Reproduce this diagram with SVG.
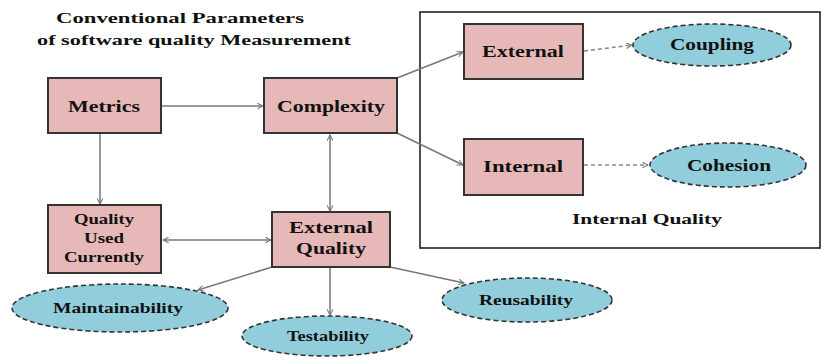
<svg xmlns="http://www.w3.org/2000/svg" width="824" height="362" viewBox="0 0 824 362">
<defs>
<marker id="ah" viewBox="0 0 10 10" refX="9" refY="5" markerWidth="7" markerHeight="7" orient="auto-start-reverse" markerUnits="userSpaceOnUse">
<path d="M1,1 L9,5 L1,9" fill="none" stroke="#777" stroke-width="1.5"/>
</marker>
</defs>
<style>
.box{fill:#e6b8b7;stroke:#333;stroke-width:2}
.ell{fill:#92cddc;stroke:#333;stroke-width:1.6;stroke-dasharray:5 3}
.t{font-family:"Liberation Serif","Times New Roman",serif;font-weight:bold;fill:#111;text-anchor:middle}
.c{fill:none;stroke:#777;stroke-width:1.5}
.d{fill:none;stroke:#888;stroke-width:1.5;stroke-dasharray:4 3}
</style>
<rect width="824" height="362" fill="#fff"/>
<g id="title">
<text class="t" x="180" y="23" font-size="15" textLength="248" lengthAdjust="spacingAndGlyphs">Conventional  Parameters</text>
<text class="t" x="194" y="45" font-size="15" textLength="314" lengthAdjust="spacingAndGlyphs">of software quality Measurement</text>
</g>
<g id="internal-quality-frame">
<rect x="420" y="12" width="400" height="236" fill="none" stroke="#222" stroke-width="1.6"/>
<text class="t" x="647" y="224" font-size="15" textLength="150" lengthAdjust="spacingAndGlyphs">Internal Quality</text>
</g>
<g id="connectors">
<line class="c" x1="161" y1="106" x2="263" y2="106" marker-end="url(#ah)"/>
<line class="c" x1="100" y1="134" x2="100" y2="204" marker-end="url(#ah)"/>
<line class="c" x1="330" y1="135" x2="330" y2="211" marker-start="url(#ah)" marker-end="url(#ah)"/>
<line class="c" x1="163" y1="240" x2="271" y2="240" marker-start="url(#ah)" marker-end="url(#ah)"/>
<line class="c" x1="397" y1="78" x2="463" y2="52" marker-end="url(#ah)"/>
<line class="c" x1="397" y1="133" x2="463" y2="165" marker-end="url(#ah)"/>
<line class="d" x1="584" y1="51" x2="632" y2="45" marker-end="url(#ah)"/>
<line class="d" x1="584" y1="165" x2="648" y2="165" marker-end="url(#ah)"/>
<line class="c" x1="272" y1="267" x2="198" y2="290" marker-end="url(#ah)"/>
<line class="c" x1="330" y1="268" x2="330" y2="315" marker-end="url(#ah)"/>
<line class="c" x1="390" y1="267" x2="464" y2="283" marker-end="url(#ah)"/>
</g>
<g id="metrics">
<rect class="box" x="48" y="78" width="113" height="55"/>
<text class="t" x="104" y="112" font-size="17" textLength="72" lengthAdjust="spacingAndGlyphs">Metrics</text>
</g>
<g id="complexity">
<rect class="box" x="264" y="78" width="133" height="55"/>
<text class="t" x="331" y="112" font-size="17" textLength="108" lengthAdjust="spacingAndGlyphs">Complexity</text>
</g>
<g id="external">
<rect class="box" x="464" y="24" width="119" height="55"/>
<text class="t" x="523" y="57" font-size="17" textLength="82" lengthAdjust="spacingAndGlyphs">External</text>
</g>
<g id="internal">
<rect class="box" x="464" y="139" width="119" height="56"/>
<text class="t" x="523" y="172" font-size="17" textLength="80" lengthAdjust="spacingAndGlyphs">Internal</text>
</g>
<g id="coupling">
<ellipse class="ell" cx="712" cy="45" rx="79" ry="21"/>
<text class="t" x="712" y="50" font-size="17" textLength="84" lengthAdjust="spacingAndGlyphs">Coupling</text>
</g>
<g id="cohesion">
<ellipse class="ell" cx="728" cy="165" rx="78" ry="22"/>
<text class="t" x="729" y="171" font-size="17" textLength="84" lengthAdjust="spacingAndGlyphs">Cohesion</text>
</g>
<g id="quality-used-currently">
<rect class="box" x="48" y="205" width="113" height="68"/>
<text class="t" x="104" y="224" font-size="14" textLength="60" lengthAdjust="spacingAndGlyphs">Quality</text>
<text class="t" x="104" y="243" font-size="14" textLength="40" lengthAdjust="spacingAndGlyphs">Used</text>
<text class="t" x="104" y="262" font-size="14" textLength="80" lengthAdjust="spacingAndGlyphs">Currently</text>
</g>
<g id="external-quality">
<rect class="box" x="272" y="212" width="118" height="55"/>
<text class="t" x="331" y="233" font-size="17" textLength="84" lengthAdjust="spacingAndGlyphs">External</text>
<text class="t" x="331" y="254" font-size="17" textLength="70" lengthAdjust="spacingAndGlyphs">Quality</text>
</g>
<g id="maintainability">
<ellipse class="ell" cx="120" cy="308" rx="108" ry="24"/>
<text class="t" x="118" y="313" font-size="14" textLength="130" lengthAdjust="spacingAndGlyphs">Maintainability</text>
</g>
<g id="testability">
<ellipse class="ell" cx="327" cy="336" rx="85" ry="20"/>
<text class="t" x="328" y="341" font-size="14" textLength="82" lengthAdjust="spacingAndGlyphs">Testability</text>
</g>
<g id="reusability">
<ellipse class="ell" cx="527" cy="300" rx="85" ry="22"/>
<text class="t" x="526" y="305" font-size="14" textLength="94" lengthAdjust="spacingAndGlyphs">Reusability</text>
</g>
</svg>
